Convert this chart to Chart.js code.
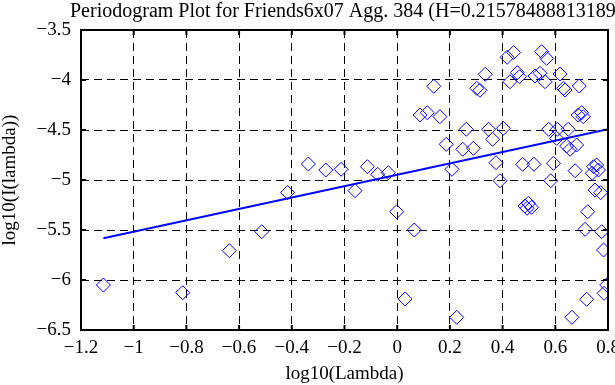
<!DOCTYPE html>
<html>
<head>
<meta charset="utf-8">
<script src="https://cdn.jsdelivr.net/npm/chart.js@4/dist/chart.umd.min.js"></script>
<style>
html, body { margin: 0; padding: 0; background: #fff; overflow: hidden; }
canvas { display: block; }
</style>
</head>
<body>
<canvas id="chart" width="660" height="385"></canvas>
<script>
// --- данные ---
const titleText = 'Periodogram Plot for Friends6x07 Agg. 384 (H=0.215784888131894)';
const xLabel = 'log10(Lambda)';
const yLabel = 'log10(I(lambda))';

const logLambda = [
  -1.115, -0.814, -0.637, -0.514, -0.416, -0.337, -0.271, -0.213, -0.160, -0.113,
  -0.074, -0.034, -0.002, 0.030, 0.065, 0.087, 0.114, 0.139, 0.162, 0.186,
  0.208, 0.226, 0.249, 0.262, 0.289, 0.302, 0.314, 0.334, 0.347, 0.362,
  0.375, 0.390, 0.403, 0.417, 0.428, 0.442, 0.456, 0.464, 0.476, 0.485,
  0.493, 0.498, 0.510, 0.519, 0.523, 0.542, 0.548, 0.561, 0.567, 0.575,
  0.583, 0.593, 0.605, 0.608, 0.618, 0.631, 0.637, 0.643, 0.649, 0.656,
  0.663, 0.675, 0.681, 0.687, 0.691, 0.700, 0.706, 0.713, 0.719, 0.723,
  0.745, 0.751, 0.757, 0.740, 0.764, 0.772, 0.776, 0.783, 0.785, 0.795
];
const logI = [
  -6.05, -6.127, -5.707, -5.517, -5.125, -4.84, -4.90, -4.893, -5.107, -4.867,
  -4.943, -4.927, -5.317, -6.19, -5.50, -4.35, -4.327, -4.063, -4.367, -4.643,
  -4.893, -6.373, -4.693, -4.493, -4.683, -4.083, -4.103, -3.943, -4.493, -4.593,
  -4.827, -5.007, -4.483, -3.773, -4.017, -3.725, -3.927, -3.967, -4.843, -5.26,
  -5.283, -5.233, -5.273, -4.843, -3.96, -3.933, -3.717, -4.017, -3.783, -4.493,
  -5.007, -4.833, -4.583, -4.493, -3.94, -4.083, -4.10, -4.66, -4.493, -4.693,
  -6.373, -4.907, -4.65, -4.35, -4.06, -4.327, -4.367, -5.493, -6.193, -5.317,
  -4.867, -5.10, -4.85, -4.933, -4.90, -5.127, -5.517, -5.70, -6.133, -6.05
];

// линия регрессии (концы)
const fitX = [-1.115, 0.8];
const fitY = [-5.583, -4.493];

const xTicks = [-1.2, -1, -0.8, -0.6, -0.4, -0.2, 0, 0.2, 0.4, 0.6, 0.8];
const yTicks = [-6.5, -6, -5.5, -5, -4.5, -4, -3.5];

const FONT = '"Liberation Serif", "Times New Roman", serif';

function fmt(v) {
    const r = Math.round(v * 10) / 10;
    return r < 0 ? '\u2212' + Math.abs(r) : String(r);
}

// рамка, внутренние засечки и подписи
const framePlugin = {
    id: 'frame',
    afterDraw(chart) {
        const { ctx, chartArea: a, scales: { x, y } } = chart;
        ctx.save();
        ctx.strokeStyle = '#000';
        ctx.lineWidth = 2;
        ctx.strokeRect(a.left, a.top, a.right - a.left, a.bottom - a.top);
        ctx.beginPath();
        xTicks.forEach(v => {
            const px = x.getPixelForValue(v);
            ctx.moveTo(px, a.bottom); ctx.lineTo(px, a.bottom - 5);
            ctx.moveTo(px, a.top); ctx.lineTo(px, a.top + 5);
        });
        yTicks.forEach(v => {
            const py = y.getPixelForValue(v);
            ctx.moveTo(a.left, py); ctx.lineTo(a.left + 5, py);
            ctx.moveTo(a.right, py); ctx.lineTo(a.right - 5, py);
        });
        ctx.stroke();

        ctx.fillStyle = '#000';
        ctx.textBaseline = 'alphabetic';
        ctx.textAlign = 'left';
        ctx.font = '20px ' + FONT;
        ctx.fillText(titleText, 70, 17);
        ctx.font = '19px ' + FONT;
        ctx.textAlign = 'center';
        ctx.fillText(xLabel, (a.left + a.right) / 2, 379);
        ctx.translate(10, (a.top + a.bottom) / 2);
        ctx.rotate(-Math.PI / 2);
        ctx.textBaseline = 'middle';
        ctx.fillText(yLabel, 0, 0);
        ctx.restore();
    }
};

const points = logLambda.map((v, i) => ({ x: v, y: logI[i] }));
const fitLine = fitX.map((v, i) => ({ x: v, y: fitY[i] }));

new Chart(document.getElementById('chart'), {
    type: 'scatter',
    data: {
        datasets: [
            { data: fitLine, showLine: true, borderColor: '#0000ff', borderWidth: 2, pointRadius: 0, fill: false },
            { data: points, pointStyle: 'rectRot', pointRadius: 7, borderColor: '#0000ff', borderWidth: 1, backgroundColor: 'rgba(0,0,0,0)', clip: 0 }
        ]
    },
    options: {
        responsive: false,
        animation: false,
        events: [],
        layout: { padding: { left: 0, top: 30, right: 52, bottom: 0 } },
        plugins: { legend: { display: false }, tooltip: { enabled: false }, title: { display: false } },
        scales: {
            x: {
                min: -1.2, max: 0.8,
                afterBuildTicks: s => { s.ticks = xTicks.map(v => ({ value: v })); },
                afterFit: s => { s.height = 55; },
                ticks: { color: '#000', font: { family: FONT, size: 19 }, padding: 7, maxRotation: 0, autoSkip: false, callback: fmt },
                grid: { color: '#000', lineWidth: 1, drawTicks: false },
                border: { display: false, dash: [8, 5] }
            },
            y: {
                min: -6.5, max: -3.5,
                afterBuildTicks: s => { s.ticks = yTicks.map(v => ({ value: v })); },
                afterFit: s => { s.width = 81; },
                ticks: { color: '#000', font: { family: FONT, size: 19 }, padding: 10, autoSkip: false, callback: fmt },
                grid: { color: '#000', lineWidth: 1, drawTicks: false },
                border: { display: false, dash: [8, 5] }
            }
        }
    },
    plugins: [framePlugin]
});
</script>
</body>
</html>
